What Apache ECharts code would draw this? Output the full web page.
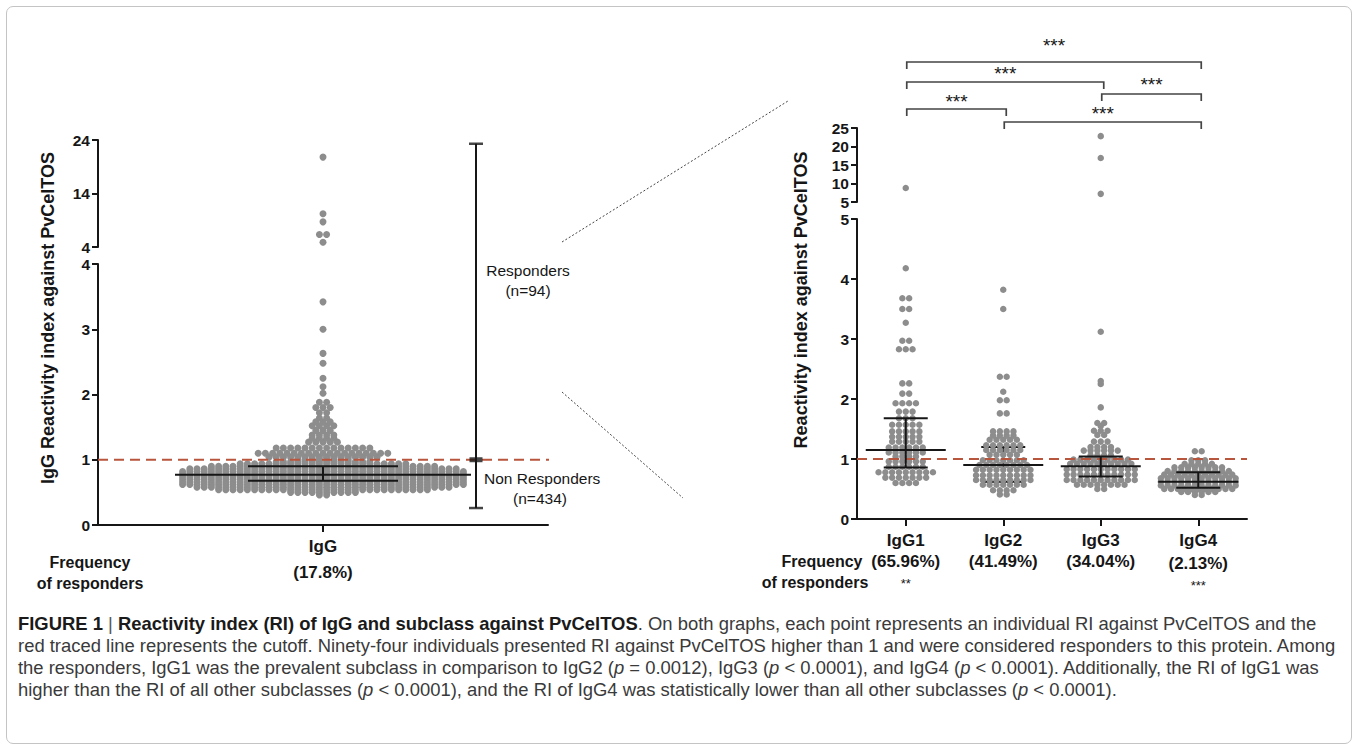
<!DOCTYPE html>
<html>
<head>
<meta charset="utf-8">
<script src="https://cdn.jsdelivr.net/npm/echarts@6/dist/echarts.min.js"></script>
<style>
  html, body { margin: 0; padding: 0; background: #fff; }
  #frame { position: absolute; left: 6px; top: 6px; width: 1344px; height: 736px; border: 1px solid #c4c4c4; border-radius: 7px; }
  #chart { position: absolute; left: 0; top: 0; width: 1358px; height: 608px; }
  #caption { position: absolute; left: 18px; top: 613px; color: #3a3a3a; white-space: nowrap;
    font-family: 'Liberation Sans Narrow', 'Liberation Sans', Arial, sans-serif; font-size: 16px; line-height: 22px; }
  #caption b { color: #1a1a1a; }
  #caption .bar { font-weight: normal; color: #555; }
</style>
</head>
<body>
<div id="frame"></div>
<div id="chart"></div>
<div id="caption">
  <div id="cap1"><b>FIGURE 1</b> <span class="bar">|</span> <b>Reactivity index (RI) of IgG and subclass against PvCelTOS</b>. On both graphs, each point represents an individual RI against PvCelTOS and the</div>
  <div id="cap2">red traced line represents the cutoff. Ninety-four individuals presented RI against PvCelTOS higher than 1 and were considered responders to this protein. Among</div>
  <div id="cap3">the responders, IgG1 was the prevalent subclass in comparison to IgG2 (<i>p</i> = 0.0012), IgG3 (<i>p</i> &lt; 0.0001), and IgG4 (<i>p</i> &lt; 0.0001). Additionally, the RI of IgG1 was</div>
  <div id="cap4">higher than the RI of all other subclasses (<i>p</i> &lt; 0.0001), and the RI of IgG4 was statistically lower than all other subclasses (<i>p</i> &lt; 0.0001).</div>
</div>
<script>
// cutoff of the reactivity index
var cutoff = 1;

// left graph: total IgG, beeswarm rows (value -> number of dots)
var iggCategory = ['IgG'];
var iggLevels = [0.46, 0.50, 0.54, 0.58, 0.62, 0.66, 0.70, 0.74, 0.78, 0.82, 0.86, 0.90, 0.94, 0.97, 1.00,
                 1.04, 1.10, 1.18, 1.27, 1.33, 1.38, 1.45, 1.52, 1.58, 1.64, 1.72, 1.80, 1.88,
                 2.02, 2.12, 2.25, 2.48, 2.63, 3.00, 3.42];
var iggCounts = [2, 10, 30, 36, 40, 40, 40, 40, 40, 40, 38, 32, 24, 14, 8,
                 16, 19, 14, 5, 4, 4, 3, 4, 3, 2, 2, 3, 2,
                 1, 1, 1, 1, 1, 1, 1];
var iggHighLevels = [4.9, 6.35, 8.7, 10.2, 20.8];
var iggHighCounts = [1, 2, 1, 1, 1];
var iggMean = [0.77];
var iggSdLow = [0.68];
var iggSdHigh = [0.90];
var nonResponderRange = [0.26, 1];
var responderRange = [1, 23.3];
var iggFrequency = '(17.8%)';

// right graph: subclasses among responders
var subclasses = ['IgG1', 'IgG2', 'IgG3', 'IgG4'];
var igg1Levels = [0.60, 0.69, 0.78, 0.87, 0.96, 1.04, 1.11, 1.19, 1.29, 1.37, 1.46, 1.57, 1.68, 1.79, 1.93, 2.09, 2.26, 2.83, 2.97, 3.27, 3.50, 3.68, 4.18];
var igg1Counts = [4, 7, 9, 6, 6, 4, 6, 6, 5, 5, 5, 5, 3, 3, 4, 2, 2, 3, 2, 1, 2, 2, 1];
var igg2Levels = [0.41, 0.48, 0.57, 0.65, 0.73, 0.82, 0.90, 0.98, 1.07, 1.15, 1.23, 1.32, 1.39, 1.46, 1.76, 1.98, 2.12, 2.37, 3.50, 3.82];
var igg2Counts = [2, 4, 7, 9, 9, 9, 8, 7, 5, 6, 6, 5, 4, 4, 2, 2, 1, 2, 1, 1];
var igg3Levels = [0.50, 0.57, 0.65, 0.74, 0.83, 0.92, 0.99, 1.06, 1.14, 1.20, 1.29, 1.40, 1.47, 1.55, 1.60, 1.86, 2.25, 2.30, 3.12];
var igg3Counts = [2, 8, 11, 11, 11, 10, 9, 4, 6, 4, 3, 2, 3, 1, 2, 1, 1, 1, 1];
var igg4Levels = [0.40, 0.45, 0.50, 0.56, 0.62, 0.68, 0.74, 0.80, 0.86, 0.92, 0.98, 1.13];
var igg4Counts = [2, 6, 11, 12, 12, 12, 11, 10, 8, 5, 3, 2];
var igg1HighLevels = [8.8];
var igg1HighCounts = [1];
var igg3HighLevels = [7.2, 16.9, 22.8];
var igg3HighCounts = [1, 1, 1];
var subMeans = [1.15, 0.90, 0.88, 0.62];
var subSdLow = [0.86, 0.62, 0.71, 0.52];
var subSdHigh = [1.68, 1.20, 1.04, 0.78];
var subFrequency = ['(65.96%)', '(41.49%)', '(34.04%)', '(2.13%)'];
var subFrequencySig = ['**', '', '', '***'];
var comparisons = [[0, 3], [0, 2], [2, 3], [0, 1], [1, 3]];
var comparisonSig = ['***', '***', '***', '***', '***'];

var FONT = "'Liberation Sans', Arial, Helvetica, sans-serif";
var INK = '#161616';
var DOT = '#8d8d8d';
var CUT = '#b8553d';

var LW = 450, RW = 390;   // plot widths (px), hidden x axes count in px

// rows of a beeswarm, centred on cx
function swarm(levels, counts, cx, step) {
  var pts = [];
  for (var i = 0; i < levels.length; i++) {
    var n = counts[i];
    for (var k = 0; k < n; k++) {
      pts.push([cx + (k - (n - 1) / 2) * step, levels[i]]);
    }
  }
  return pts;
}

function yAx(gi, min, max, extra) {
  var a = {
    type: 'value', gridIndex: gi, min: min, max: max,
    axisLine: { show: true, lineStyle: { color: INK, width: 2 } },
    axisTick: { show: true, length: 6, lineStyle: { color: INK, width: 2 } },
    axisLabel: { color: INK, fontFamily: FONT, fontWeight: 'bold', fontSize: 15.5, margin: 8 },
    splitLine: { show: false }
  };
  for (var k in extra) a[k] = extra[k];
  return a;
}
function catAx(gi, cats) {
  return {
    type: 'category', gridIndex: gi, data: cats, boundaryGap: true,
    axisLine: { show: true, lineStyle: { color: INK, width: 2 } },
    axisTick: { show: true, alignWithLabel: true, length: 7, lineStyle: { color: INK, width: 2 } },
    axisLabel: { color: INK, fontFamily: FONT, fontWeight: 'bold', fontSize: 17, margin: 13 },
    splitLine: { show: false }
  };
}
function pxAx(gi, w) {
  return { type: 'value', gridIndex: gi, min: 0, max: w, show: false };
}

function dots(xi, yi, data, size) {
  return { type: 'scatter', xAxisIndex: xi, yAxisIndex: yi, data: data, symbolSize: size,
    itemStyle: { color: DOT, opacity: 1 }, silent: true, z: 2, animation: false };
}

function errBars(xi, yi, means, lows, highs, meanHalf, sdHalf, part, z) {
  var data = means.map(function (m, i) { return [i, m, lows[i], highs[i]]; });
  return {
    type: 'custom', xAxisIndex: xi, yAxisIndex: yi, z: z, silent: true, animation: false,
    data: data,
    renderItem: function (params, api) {
      var c = api.coord([api.value(0), api.value(1)]);
      var lo = api.coord([api.value(0), api.value(2)]);
      var hi = api.coord([api.value(0), api.value(3)]);
      var st = { stroke: INK, lineWidth: 2 };
      var kids = [];
      if (part.indexOf('mean') >= 0) {
        kids.push({ type: 'line', shape: { x1: c[0] - meanHalf, y1: c[1], x2: c[0] + meanHalf, y2: c[1] }, style: st });
      }
      if (part.indexOf('sd') >= 0 && (!part.only || part.only.indexOf(params.dataIndex) >= 0)) {
        kids.push({ type: 'line', shape: { x1: c[0] - sdHalf, y1: lo[1], x2: c[0] + sdHalf, y2: lo[1] }, style: st });
        kids.push({ type: 'line', shape: { x1: c[0] - sdHalf, y1: hi[1], x2: c[0] + sdHalf, y2: hi[1] }, style: st });
        kids.push({ type: 'line', shape: { x1: c[0], y1: lo[1], x2: c[0], y2: hi[1] }, style: st });
      }
      return { type: 'group', children: kids };
    }
  };
}

function cutLine(xi, yi, w) {
  return { type: 'line', xAxisIndex: xi, yAxisIndex: yi, data: [[0, cutoff], [w, cutoff]],
    symbol: 'none', silent: true, z: 4, animation: false, clip: false,
    lineStyle: { color: CUT, width: 2, type: [10, 6] } };
}

var subLevels = [igg1Levels, igg2Levels, igg3Levels, igg4Levels];
var subCounts = [igg1Counts, igg2Counts, igg3Counts, igg4Counts];
var subHighLevels = [igg1HighLevels, [], igg3HighLevels, []];
var subHighCounts = [igg1HighCounts, [], igg3HighCounts, []];
var band = RW / subclasses.length;

var barX = 378;   // responders / non responders range bar, px from left axis

var series = [];
series.push(dots(1, 0, swarm(iggLevels, iggCounts, LW / 2, 7.2), 7));
series.push(dots(2, 1, swarm(iggHighLevels, iggHighCounts, LW / 2, 7.2), 7));
for (var s = 0; s < subclasses.length; s++) {
  series.push(dots(4, 2, swarm(subLevels[s], subCounts[s], (s + 0.5) * band, 6.8), 6.5));
  series.push(dots(5, 3, swarm(subHighLevels[s], subHighCounts[s], (s + 0.5) * band, 6.8), 6.5));
}
series.push(cutLine(1, 0, LW + 3));
series.push(cutLine(4, 2, RW));
series.push(errBars(0, 0, iggMean, iggSdLow, iggSdHigh, 148, 75, ['mean', 'sd'], 6));
series.push(errBars(3, 2, subMeans, subSdLow, subSdHigh, 40, 22, ['mean'], 6));
var sdTop = ['sd']; sdTop.only = [0, 2, 3];
var sdBack = ['sd']; sdBack.only = [1];
series.push(errBars(3, 2, subMeans, subSdLow, subSdHigh, 40, 22, sdTop, 6));
series.push(errBars(3, 2, subMeans, subSdLow, subSdHigh, 40, 22, sdBack, 1));

// responders / non responders bar (crosses the axis break)
series.push({ type: 'line', xAxisIndex: 1, yAxisIndex: 0, clip: false, symbol: 'none', silent: true, z: 6, animation: false,
  data: [[barX, nonResponderRange[0]], [barX, 4.26]], lineStyle: { color: INK, width: 2 } });
series.push({ type: 'line', xAxisIndex: 2, yAxisIndex: 1, clip: false, symbol: 'none', silent: true, z: 6, animation: false,
  data: [[barX, 4], [barX, responderRange[1]]], lineStyle: { color: INK, width: 2 } });
series.push({ type: 'scatter', xAxisIndex: 1, yAxisIndex: 0, symbol: 'rect', symbolSize: [14, 2.5], silent: true, z: 6, animation: false,
  data: [[barX, nonResponderRange[0]]], itemStyle: { color: INK } });
series.push({ type: 'scatter', xAxisIndex: 1, yAxisIndex: 0, symbol: 'rect', symbolSize: [13, 5], silent: true, z: 6, animation: false,
  data: [[barX, cutoff]], itemStyle: { color: INK } });
series.push({ type: 'scatter', xAxisIndex: 2, yAxisIndex: 1, symbol: 'rect', symbolSize: [14, 2.5], silent: true, z: 6, animation: false,
  data: [[barX, responderRange[1]]], itemStyle: { color: INK } });

var chart = echarts.init(document.getElementById('chart'), null, { renderer: 'svg' });
chart.setOption({
  backgroundColor: 'transparent',
  animation: false,
  grid: [
    { left: 98, top: 264, width: LW, height: 261 },
    { left: 98, top: 140, width: LW, height: 107 },
    { left: 857, top: 219, width: RW, height: 300 },
    { left: 857, top: 128, width: RW, height: 74 }
  ],
  xAxis: [
    catAx(0, iggCategory),
    pxAx(0, LW),
    pxAx(1, LW),
    catAx(2, subclasses),
    pxAx(2, RW),
    pxAx(3, RW)
  ],
  yAxis: [
    yAx(0, 0, 4, { interval: 1 }),
    yAx(1, 4, 24, {
      axisTick: { show: true, length: 6, customValues: [4, 14, 24], lineStyle: { color: INK, width: 2 } },
      axisLabel: { color: INK, fontFamily: FONT, fontWeight: 'bold', fontSize: 15.5, margin: 8, customValues: [4, 14, 24] }
    }),
    yAx(2, 0, 5, { interval: 1 }),
    yAx(3, 5, 25, { interval: 5 })
  ],
  series: series
});

// annotations: titles, frequencies, significance brackets, zoom connectors
var g = [];
function txt(x, y, text, size, weight, extra) {
  var e = { type: 'text', x: x, y: y, z: 20, silent: true,
    style: { text: text, fontFamily: FONT, fontSize: size, fontWeight: weight || 'normal', fill: INK,
      align: 'center', verticalAlign: 'middle' } };
  if (extra) {
    for (var k in extra) {
      if (k === 'align') e.style.align = extra[k]; else e[k] = extra[k];
    }
  }
  return e;
}
g.push(txt(48, 318, 'IgG Reactivity index against PvCelTOS', 18, 'bold', { rotation: Math.PI / 2 }));
g.push(txt(801, 300, 'Reactivity index against PvCelTOS', 18, 'bold', { rotation: Math.PI / 2 }));

var iggX = chart.convertToPixel({ xAxisIndex: 0 }, iggCategory[0]);
g.push(txt(90, 562, 'Frequency', 16, 'bold'));
g.push(txt(90, 583, 'of responders', 16, 'bold'));
g.push(txt(iggX, 572, iggFrequency, 17, 'bold'));

var barPx = chart.convertToPixel({ xAxisIndex: 1 }, barX);
var rY = chart.convertToPixel({ yAxisIndex: 1 }, 14);
g.push(txt(barPx + 52, rY + 77, 'Responders', 15.5));
g.push(txt(barPx + 52, rY + 97, '(n=94)', 15.5));
var cY = chart.convertToPixel({ yAxisIndex: 0 }, cutoff);
g.push(txt(barPx + 8, cY + 19, 'Non Responders', 15.5, null, { align: 'left' }));
g.push(txt(barPx + 64, cY + 39, '(n=434)', 15.5));

g.push(txt(822, 561, 'Frequency', 16, 'bold'));
g.push(txt(815, 582, 'of responders', 16, 'bold'));
var subX = subclasses.map(function (c) { return chart.convertToPixel({ xAxisIndex: 3 }, c); });
subclasses.forEach(function (c, i) {
  var dy = subFrequency[i].length < 8 ? 2 : 0;
  g.push(txt(subX[i], 561 + dy, subFrequency[i], 17, 'bold'));
  if (subFrequencySig[i]) g.push(txt(subX[i], 583 + dy, subFrequencySig[i], 13));
});

var bracketY = [62, 82, 94, 109, 122];
var starGap = [17, 9, 10, 8, 9];
comparisons.forEach(function (p, i) {
  var x1 = subX[p[0]] + 1, x2 = subX[p[1]] + 3, y = bracketY[i];
  g.push({ type: 'polyline', z: 20, silent: true,
    shape: { points: [[x1, y + 7], [x1, y], [x2, y], [x2, y + 7]] },
    style: { stroke: '#444', lineWidth: 1.7, fill: null } });
  g.push(txt((x1 + x2) / 2, y - starGap[i], comparisonSig[i], 19));
});

var dotted = { stroke: '#444', lineWidth: 1, lineDash: [2, 2] };
g.push({ type: 'line', z: 20, silent: true, shape: { x1: 562, y1: 242, x2: 788, y2: 101 }, style: dotted });
g.push({ type: 'line', z: 20, silent: true, shape: { x1: 562, y1: 392, x2: 683, y2: 498 }, style: dotted });

chart.setOption({ graphic: g });

// caption: fit the longest line to the width it has in the figure
(function () {
  var cap = document.getElementById('caption');
  var el = document.createElement('span');
  el.style.whiteSpace = 'nowrap';
  el.innerHTML = document.getElementById('cap2').innerHTML;
  cap.appendChild(el);
  var w = el.offsetWidth;
  cap.removeChild(el);
  cap.style.fontSize = (16 * 1318 / w).toFixed(2) + 'px';
})();
</script>
</body>
</html>
